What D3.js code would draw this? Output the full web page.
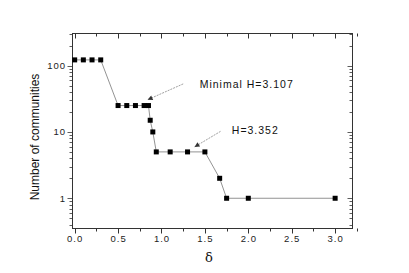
<!DOCTYPE html>
<html><head><meta charset="utf-8">
<script src="https://cdn.jsdelivr.net/npm/d3@7"></script>
<style>body{margin:0;background:#fff}svg{display:block}</style>
</head><body><svg id="c" width="409" height="273"></svg>
<script>
const deltaValues = [0, 0.1, 0.2, 0.3, 0.5, 0.6, 0.7, 0.8, 0.85, 0.87, 0.9, 0.94, 1.1, 1.3, 1.5, 1.67, 1.75, 2.0, 3.0];
const communities = [122, 122, 122, 122, 25, 25, 25, 25, 25, 15, 10, 5, 5, 5, 5, 2, 1, 1, 1];
const xTicks = [0, 0.5, 1.0, 1.5, 2.0, 2.5, 3.0];
const yTicks = [1, 10, 100];
const annotationTexts = ["Minimal H=3.107", "H=3.352"];
const annotationTextAt = [[1.44, 46.4], [1.81, 9.2]];
const arrowFrom = [[1.25, 53], [1.68, 10.2]];
const arrowTo = [[0.84, 30.6], [1.38, 5.93]];

const svg = d3.select("#c");
const L = 72.5, R = 352.5, T = 33.5, B = 228.5;
const x = d3.scaleLinear().domain([-0.025, 3.2]).range([L, R]);
const y = d3.scaleLog().domain([0.35, 305]).range([B, T]);
const axisColor = "#333";
const font = "Liberation Sans, Arial, sans-serif";

const xMinor = d3.range(0, 3.26, 0.25);
const yMinor = [];
[0.1, 1, 10, 100].forEach(d => { for (let k = 1; k < 10; k++) { const v = d * k; if (v >= 0.35 && v <= 305) yMinor.push(v); } });

const g = svg.append("g");
g.append("rect").attr("x", L).attr("y", T).attr("width", R - L).attr("height", B - T)
  .attr("fill", "none").attr("stroke", axisColor).attr("stroke-width", 1);

xMinor.forEach(v => {
  const major = xTicks.some(t => Math.abs(t - v) < 1e-6);
  const len = major ? 5 : 3;
  const px = Math.round(x(v)) + 0.5;
  g.append("line").attr("x1", px).attr("x2", px).attr("y1", B).attr("y2", B + len).attr("stroke", axisColor);
  g.append("line").attr("x1", px).attr("x2", px).attr("y1", T).attr("y2", T + len).attr("stroke", axisColor);
});
yMinor.forEach(v => {
  const major = yTicks.includes(v);
  const len = major ? 5 : 3;
  const py = Math.round(y(v)) + 0.5;
  g.append("line").attr("x1", L - len).attr("x2", L).attr("y1", py).attr("y2", py).attr("stroke", axisColor).attr("stroke-width", 0.8);
  g.append("line").attr("x1", R - len).attr("x2", R).attr("y1", py).attr("y2", py).attr("stroke", axisColor).attr("stroke-width", 0.8);
});

g.selectAll(".xl").data(xTicks).enter().append("text")
  .attr("x", d => x(d) + 0.5).attr("y", 242).attr("text-anchor", "middle")
  .attr("font-family", font).attr("font-size", 9.5).attr("letter-spacing", 1).attr("fill", "#222")
  .text(d => d.toFixed(1));
g.selectAll(".yl").data(yTicks).enter().append("text")
  .attr("x", 66).attr("y", d => y(d) + 3.5).attr("text-anchor", "end")
  .attr("font-family", font).attr("font-size", 9.5).attr("letter-spacing", 1).attr("fill", "#222")
  .text(d => d);

g.append("text").attr("transform", "translate(39,137) rotate(-90)").attr("text-anchor", "middle")
  .attr("font-family", font).attr("font-size", 12).attr("fill", "#111").text("Number of communities");
g.append("text").attr("x", 209).attr("y", 262).attr("text-anchor", "middle")
  .attr("font-family", "DejaVu Serif, serif").attr("font-size", 13).attr("fill", "#111").text("δ");

const pts = deltaValues.map((d, i) => [d, communities[i]]);
g.append("path").datum(pts)
  .attr("d", d3.line().x(d => x(d[0])).y(d => y(d[1])))
  .attr("fill", "none").attr("stroke", "#777").attr("stroke-width", 0.8);
g.selectAll(".pt").data(pts).enter().append("rect")
  .attr("x", d => x(d[0]) - 2.5).attr("y", d => y(d[1]) - 2.5)
  .attr("width", 5).attr("height", 5).attr("fill", "#000");

const defs = svg.append("defs");
defs.append("marker").attr("id", "ah").attr("viewBox", "0 0 10 10").attr("refX", 10).attr("refY", 5)
  .attr("markerWidth", 7).attr("markerHeight", 5).attr("orient", "auto").attr("markerUnits", "userSpaceOnUse")
  .append("path").attr("d", "M0,0L10,5L0,10z").attr("fill", "#333");
annotationTexts.forEach((t, i) => {
  g.append("line").attr("x1", x(arrowFrom[i][0])).attr("y1", y(arrowFrom[i][1]))
    .attr("x2", x(arrowTo[i][0])).attr("y2", y(arrowTo[i][1]))
    .attr("stroke", "#888").attr("stroke-width", 0.8).attr("stroke-dasharray", "2,1")
    .attr("marker-end", "url(#ah)");
  g.append("text").attr("x", x(annotationTextAt[i][0])).attr("y", y(annotationTextAt[i][1]))
    .attr("font-family", font).attr("font-size", 10.5).attr("letter-spacing", 1).attr("fill", "#111").text(t);
});
</script></body></html>
